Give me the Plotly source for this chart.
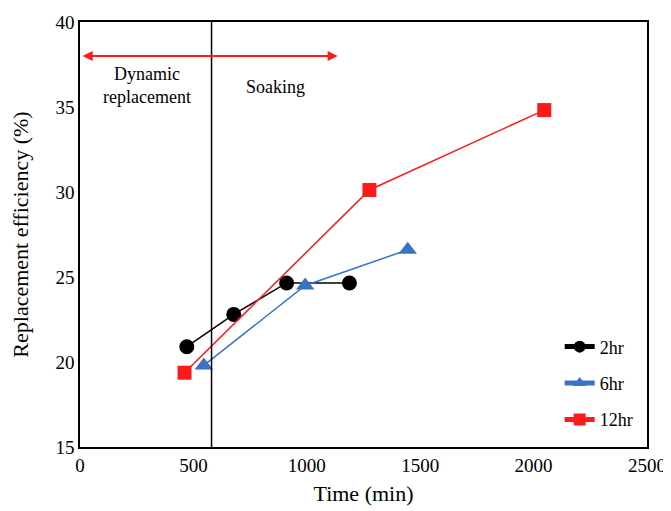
import plotly.graph_objects as go

t_2hr = [471, 678, 911, 1188]
e_2hr = [20.9, 22.8, 24.65, 24.65]
t_6hr = [546, 993, 1445]
e_6hr = [19.8, 24.5, 26.6]
t_12hr = [461, 1276, 2047]
e_12hr = [19.37, 30.12, 34.82]

x_ticks = [0, 500, 1000, 1500, 2000, 2500]
y_ticks = [15, 20, 25, 30, 35, 40]
boundary_time = 580

font = dict(family="Liberation Serif, Times New Roman, serif", size=18, color="black")

fig = go.Figure()
fig.add_trace(go.Scatter(x=t_2hr, y=e_2hr, name="2hr", mode="lines+markers",
                         line=dict(color="black", width=1.5),
                         marker=dict(symbol="circle", size=15, color="black"),
                         legendgroup="a"))
fig.add_trace(go.Scatter(x=t_6hr, y=e_6hr, name="6hr", mode="lines+markers",
                         line=dict(color="#3a73c4", width=1.5),
                         marker=dict(symbol="triangle-up", size=16, color="#3a73c4"),
                         legendgroup="b"))
fig.add_trace(go.Scatter(x=t_12hr, y=e_12hr, name="12hr", mode="lines+markers",
                         line=dict(color="#ff1a1a", width=1.5),
                         marker=dict(symbol="square", size=14, color="#ff1a1a"),
                         legendgroup="c"))

fig.add_shape(type="line", x0=boundary_time, x1=boundary_time, y0=15, y1=40,
              xref="x", yref="y", line=dict(color="black", width=1.5))

fig.add_annotation(x=1136, y=38.0, ax=5, ay=38.0, xref="x", yref="y", axref="x", ayref="y",
                   showarrow=True, arrowhead=2, startarrowhead=2, arrowside="end+start",
                   arrowwidth=2, arrowcolor="#ff1a1a", arrowsize=1, startarrowsize=1, text="")
fig.add_annotation(x=295, y=36.25, xref="x", yref="y", text="Dynamic<br>replacement",
                   showarrow=False, font=font)
fig.add_annotation(x=862, y=36.2, xref="x", yref="y", text="Soaking",
                   showarrow=False, font=font)

fig.update_layout(
    width=663, height=503,
    margin=dict(l=72, r=24, t=14, b=64),
    paper_bgcolor="white", plot_bgcolor="white",
    font=font,
    showlegend=True,
    legend=dict(x=0.846, y=0.279, xanchor="left", yanchor="top", bgcolor="rgba(0,0,0,0)",
                tracegroupgap=10, font=dict(size=18), itemwidth=30, itemsizing="constant"),
)
fig.update_xaxes(range=[0, 2500], tickvals=x_ticks, showgrid=False, zeroline=False,
                 showline=True, linecolor="black", linewidth=1.5, mirror=True, automargin=False,
                 ticks="", tickfont=dict(size=19), title=dict(text="Time (min)", standoff=11))
fig.update_yaxes(range=[15, 40], tickvals=y_ticks, showgrid=False, zeroline=False,
                 showline=True, linecolor="black", linewidth=1.5, mirror=True, automargin=False,
                 ticks="", tickfont=dict(size=19),
                 title=dict(text="Replacement efficiency (%)", standoff=25))

fig.write_html("out.html")
